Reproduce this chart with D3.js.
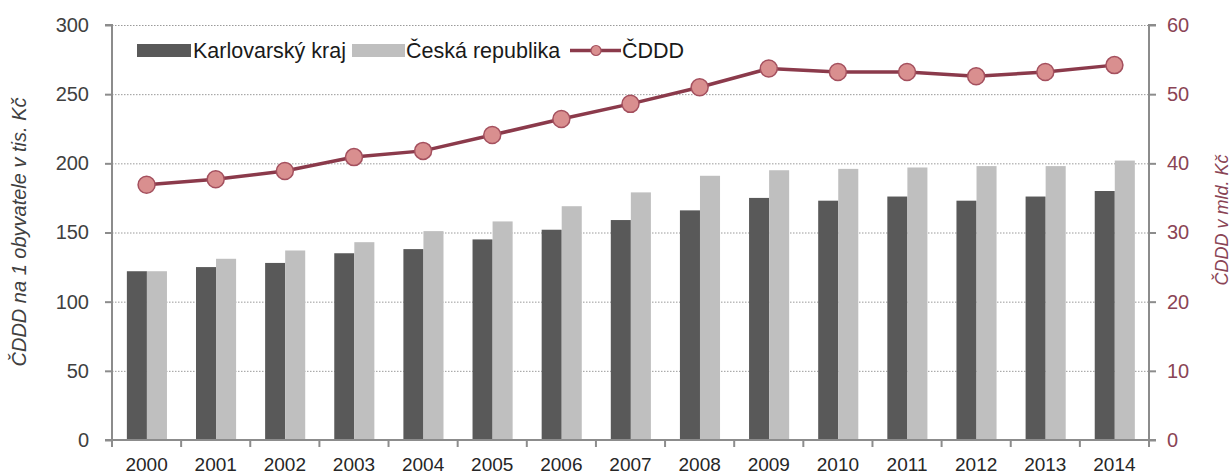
<!DOCTYPE html>
<html>
<head>
<meta charset="utf-8">
<script src="https://cdn.jsdelivr.net/npm/d3@7"></script>
<style>
  html, body { margin: 0; padding: 0; background: #fff; }
  svg { display: block; font-family: "Liberation Sans", Arial, sans-serif; }
</style>
</head>
<body>
<svg id="chart" width="1232" height="474"></svg>
<script>
const years = ["2000","2001","2002","2003","2004","2005","2006","2007","2008","2009","2010","2011","2012","2013","2014"];
const karlovarsky = [122, 125, 128, 135, 138, 145, 152, 159, 166, 175, 173, 176, 173, 176, 180];
const ceskaRepublika = [122, 131, 137, 143, 151, 158, 169, 179, 191, 195, 196, 197, 198, 198, 202];
const cddd = [36.9, 37.7, 38.9, 40.9, 41.8, 44.1, 46.4, 48.6, 51.0, 53.7, 53.2, 53.2, 52.6, 53.2, 54.2];
const leftTicks = [0, 50, 100, 150, 200, 250, 300];
const rightTicks = [0, 10, 20, 30, 40, 50, 60];
const seriesNames = ["Karlovarský kraj", "Česká republika", "ČDDD"];
const leftTitle = "ČDDD na 1 obyvatele v tis. Kč";
const rightTitle = "ČDDD v mld. Kč";

const svg = d3.select("#chart");
const X0 = 112, X1 = 1149, Y0 = 440, Y1 = 25;
const axisColor = "#8c8c8c";
const darkBar = "#595959", lightBar = "#bfbfbf";
const lineColor = "#8b3a4b", markerFill = "#d98f8f", markerStroke = "#a4505e";
const rightColor = "#8a4455";

const x = d3.scaleBand().domain(years).range([X0, X1]).padding(0);
const yL = d3.scaleLinear().domain([0, 300]).range([Y0, Y1]);
const yR = d3.scaleLinear().domain([0, 60]).range([Y0, Y1]);
const step = x.bandwidth();
const barW = step * 0.29;
const off = step * 0.215;

// gridlines
svg.append("g").selectAll("line").data(leftTicks.filter(d => d > 0)).join("line")
  .attr("x1", X0).attr("x2", X1)
  .attr("y1", d => yL(d) + 0.5).attr("y2", d => yL(d) + 0.5)
  .attr("stroke", "#9a9a9a").attr("stroke-width", 1).attr("stroke-dasharray", "1.5,1.5");

// bars
const g = svg.append("g");
g.selectAll("rect.k").data(years).join("rect").attr("class", "k")
  .attr("x", d => x(d) + off).attr("width", barW)
  .attr("y", (d, i) => yL(karlovarsky[i])).attr("height", (d, i) => Y0 - yL(karlovarsky[i]))
  .attr("fill", darkBar);
g.selectAll("rect.c").data(years).join("rect").attr("class", "c")
  .attr("x", d => x(d) + off + barW).attr("width", barW)
  .attr("y", (d, i) => yL(ceskaRepublika[i])).attr("height", (d, i) => Y0 - yL(ceskaRepublika[i]))
  .attr("fill", lightBar);

// axes
const leftAxis = svg.append("g").attr("transform", `translate(${X0},0)`)
  .call(d3.axisLeft(yL).tickValues(leftTicks).tickSize(7).tickPadding(16));
const rightAxis = svg.append("g").attr("transform", `translate(${X1},0)`)
  .call(d3.axisRight(yR).tickValues(rightTicks).tickSize(7).tickPadding(11));
const bottomAxis = svg.append("g").attr("transform", `translate(0,${Y0})`)
  .call(d3.axisBottom(x).tickSize(0).tickPadding(18));

[leftAxis, rightAxis, bottomAxis].forEach(a => {
  a.select(".domain").attr("stroke", axisColor).attr("stroke-width", 2);
  a.selectAll(".tick line").attr("stroke", axisColor).attr("stroke-width", 2);
  a.selectAll("text").attr("font-size", 20).attr("font-family", "'Liberation Sans', Arial, sans-serif");
});
leftAxis.selectAll("text").attr("fill", "#404040");
rightAxis.selectAll("text").attr("fill", rightColor);
bottomAxis.selectAll("text").attr("fill", "#262626").attr("font-size", 19);
rightAxis.select(".domain").attr("d", `M7,${Y1}H0V${Y0}H7`);
leftAxis.select(".domain").attr("d", `M-7,${Y1}H0V${Y0}H-7`);
bottomAxis.select(".domain").attr("d", `M${X0},0H${X1}`);

// category boundary ticks on x-axis
const bounds = years.map(d => x(d)).concat([X1]);
svg.append("g").selectAll("line").data(bounds).join("line")
  .attr("x1", d => d).attr("x2", d => d).attr("y1", Y0).attr("y2", Y0 + 7)
  .attr("stroke", axisColor).attr("stroke-width", 2);

// line series
const line = d3.line().x((d, i) => x(years[i]) + step / 2).y(d => yR(d));
svg.append("path").datum(cddd).attr("d", line)
  .attr("fill", "none").attr("stroke", lineColor).attr("stroke-width", 3.5);
svg.append("g").selectAll("circle").data(cddd).join("circle")
  .attr("cx", (d, i) => x(years[i]) + step / 2).attr("cy", d => yR(d)).attr("r", 8.5)
  .attr("fill", markerFill).attr("stroke", markerStroke).attr("stroke-width", 1.5);

// axis titles
svg.append("text").attr("transform", `translate(26,${232}) rotate(-90)`)
  .attr("text-anchor", "middle").attr("font-size", 20).attr("font-style", "italic")
  .attr("fill", "#404040").text(leftTitle);
svg.append("text").attr("transform", `translate(1228,${220}) rotate(-90)`)
  .attr("text-anchor", "middle").attr("font-size", 18).attr("font-style", "italic")
  .attr("fill", rightColor).text(rightTitle);

// legend
const lg = svg.append("g").attr("font-size", 21.5).attr("fill", "#1a1a1a");
lg.append("rect").attr("x", 137).attr("y", 44).attr("width", 54).attr("height", 13).attr("fill", darkBar);
lg.append("text").attr("x", 193).attr("y", 58).text(seriesNames[0]);
lg.append("rect").attr("x", 352).attr("y", 44).attr("width", 53).attr("height", 13).attr("fill", lightBar);
lg.append("text").attr("x", 406).attr("y", 58).text(seriesNames[1]);
lg.append("line").attr("x1", 570).attr("x2", 621).attr("y1", 50.5).attr("y2", 50.5)
  .attr("stroke", lineColor).attr("stroke-width", 3.5);
lg.append("circle").attr("cx", 596).attr("cy", 50.5).attr("r", 5)
  .attr("fill", markerFill).attr("stroke", markerStroke).attr("stroke-width", 1.2);
lg.append("text").attr("x", 622).attr("y", 58).text(seriesNames[2]);
</script>
</body>
</html>
